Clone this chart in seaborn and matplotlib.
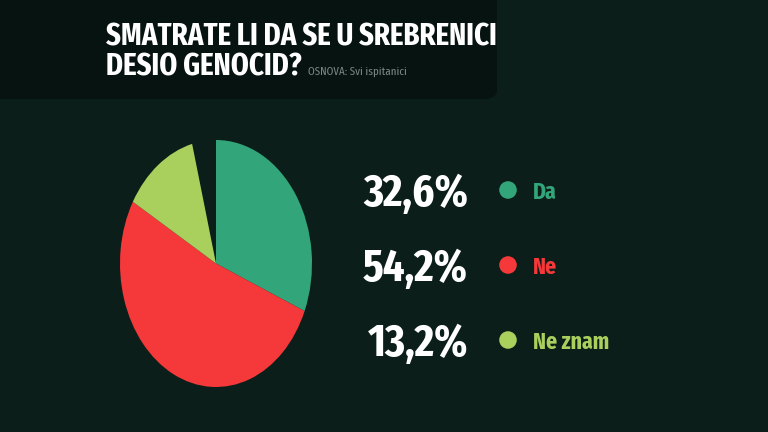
import numpy as np
import pandas as pd
import matplotlib
matplotlib.use("Agg")
import matplotlib.pyplot as plt
from matplotlib.patches import FancyBboxPatch
import seaborn as sns

# podaci sa slike
answers = ["Da", "Ne", "Ne znam"]
shares = [32.6, 54.2, 13.2]
share_labels = ["32,6%", "54,2%", "13,2%"]
colors = ["#33a57b", "#f5393a", "#a9cf5c"]

title_line1 = "SMATRATE LI DA SE U SREBRENICI"
title_line2 = "DESIO GENOCID?"
subtitle = "OSNOVA: Svi ispitanici"

bg = "#0b1e19"
band = "#061310"
font = ["Fira Sans Extra Condensed", "Roboto Condensed", "DejaVu Sans"]

sns.set_theme(style="dark", rc={"axes.facecolor": bg, "figure.facecolor": bg})
plt.rcParams["font.family"] = font

df = pd.DataFrame({"answer": answers, "share": shares, "label": share_labels})
df["row"] = np.arange(len(df))
df["mx"] = 168

W, H = 768, 432
fig = plt.figure(figsize=(7.68, 4.32), dpi=100)
fig.patch.set_facecolor(bg)

# tamna traka iza naslova
fig.patches.append(FancyBboxPatch((-0.05, 1 - 99 / H), 0.05 + 497 / W, 0.4,
                                  boxstyle="round,pad=0,rounding_size=0.02",
                                  transform=fig.transFigure, facecolor=band,
                                  edgecolor="none", zorder=0))

fig.text(106 / W, 1 - 45 / H, title_line1, color="white", fontsize=22.5,
         fontweight="bold", va="baseline", ha="left")
t2 = fig.text(106 / W, 1 - 75 / H, title_line2, color="white", fontsize=22.5,
              fontweight="bold", va="baseline", ha="left")
fig.canvas.draw()
x_end = t2.get_window_extent(fig.canvas.get_renderer()).x1
fig.text((x_end + 6) / W, 1 - 75 / H, subtitle, color="#7b8682", fontsize=8.5,
         va="baseline", ha="left")

# pita (elipsa)
ax = fig.add_axes([120 / W, 1 - 387 / H, 192 / W, 247 / H])
ax.pie(np.array(df["share"]) / 100 * 0.96, normalize=False, colors=colors,
       startangle=90, counterclock=False, radius=1,
       wedgeprops={"linewidth": 0})
ax.set_aspect("auto")
ax.set_xlim(-1, 1)
ax.set_ylim(-1, 1)
ax.set_facecolor("none")

# legenda s postocima
lx0, lx1, ly0, ly1 = 340, 640, 152.5, 377.5
lax = fig.add_axes([lx0 / W, 1 - ly1 / H, (lx1 - lx0) / W, (ly1 - ly0) / H])
lax.set_facecolor("none")
sns.scatterplot(data=df, x="mx", y="row", hue="answer", palette=colors,
                s=160, linewidth=0, legend=False, ax=lax)
lax.set_xlim(0, lx1 - lx0)
lax.set_ylim(len(df) - 0.5, -0.5)
for r in df.itertuples():
    lax.text(128, r.row + 0.21, r.label, color="white", fontsize=33,
             fontweight="bold", ha="right", va="baseline")
    lax.text(193, r.row + 0.115, r.answer, color=colors[r.row], fontsize=17,
             fontweight="bold", ha="left", va="baseline")
lax.axis("off")

fig.savefig("out.png", dpi=100, facecolor=bg)
